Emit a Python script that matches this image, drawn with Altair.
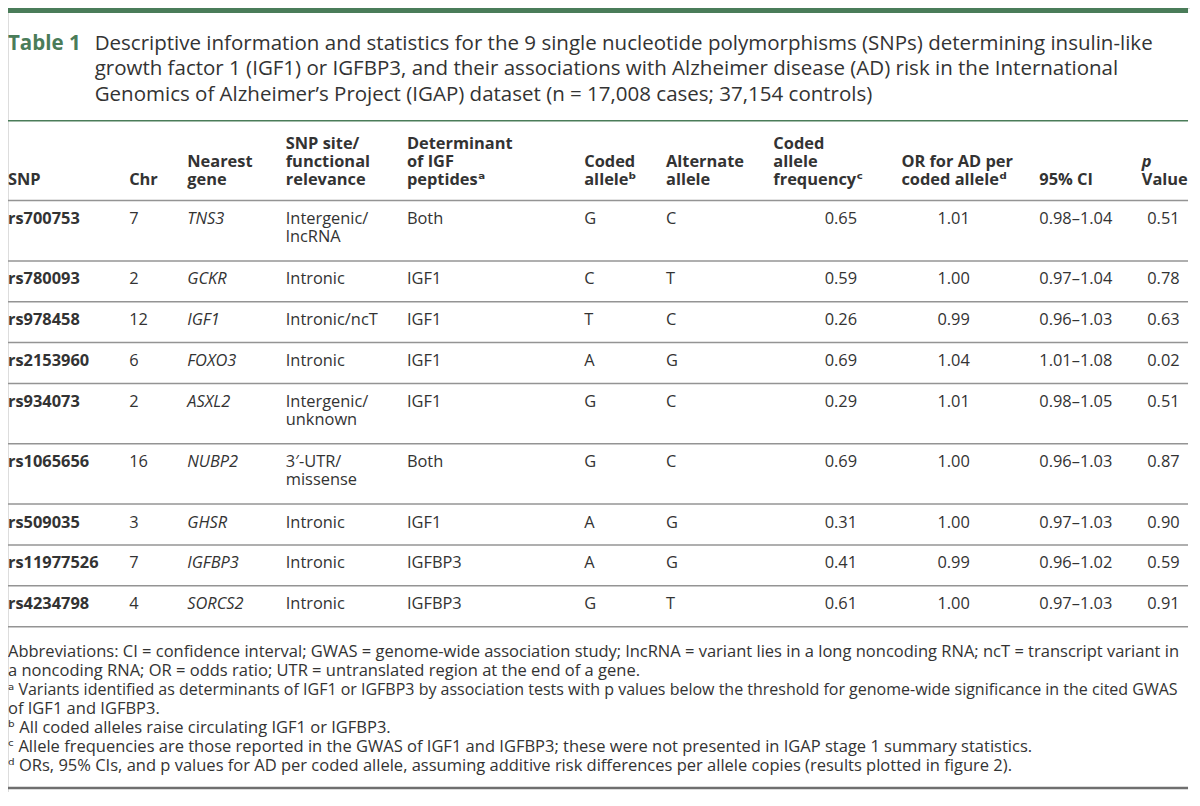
import altair as alt
import pandas as pd

# ---------------- data ----------------
title_label = "Table 1"
title_lines = [
    "Descriptive information and statistics for the 9 single nucleotide polymorphisms (SNPs) determining insulin-like",
    "growth factor 1 (IGF1) or IGFBP3, and their associations with Alzheimer disease (AD) risk in the International",
    "Genomics of Alzheimer\u2019s Project (IGAP) dataset (n = 17,008 cases; 37,154 controls)",
]
header_cells = [
    ["SNP"], ["Chr"], ["Nearest", "gene"], ["SNP site/", "functional", "relevance"],
    ["Determinant", "of IGF", "peptides\u1d43"], ["Coded", "allele\u1d47"], ["Alternate", "allele"],
    ["Coded", "allele", "frequency\u1d9c"], ["OR for AD per", "coded allele\u1d48"], ["95% CI"], ["p", "Value"],
]
snps = ["rs700753", "rs780093", "rs978458", "rs2153960", "rs934073",
        "rs1065656", "rs509035", "rs11977526", "rs4234798"]
chromosomes = [7, 2, 12, 6, 2, 16, 3, 7, 4]
genes = ["TNS3", "GCKR", "IGF1", "FOXO3", "ASXL2", "NUBP2", "GHSR", "IGFBP3", "SORCS2"]
sites = [["Intergenic/", "lncRNA"], ["Intronic"], ["Intronic/ncT"], ["Intronic"],
         ["Intergenic/", "unknown"], ["3\u2032-UTR/", "missense"], ["Intronic"], ["Intronic"], ["Intronic"]]
determinants = ["Both", "IGF1", "IGF1", "IGF1", "IGF1", "Both", "IGF1", "IGFBP3", "IGFBP3"]
coded_alleles = ["G", "C", "T", "A", "G", "G", "A", "A", "G"]
alternate_alleles = ["C", "T", "C", "G", "C", "C", "G", "G", "T"]
allele_freq = [0.65, 0.59, 0.26, 0.69, 0.29, 0.69, 0.31, 0.41, 0.61]
odds_ratios = [1.01, 1.00, 0.99, 1.04, 1.01, 1.00, 1.00, 0.99, 1.00]
ci_low = [0.98, 0.97, 0.96, 1.01, 0.98, 0.96, 0.97, 0.96, 0.97]
ci_high = [1.04, 1.04, 1.03, 1.08, 1.05, 1.03, 1.03, 1.02, 1.03]
p_values = [0.51, 0.78, 0.63, 0.02, 0.51, 0.87, 0.90, 0.59, 0.91]
footnotes = [
    "Abbreviations: CI = confidence interval; GWAS = genome-wide association study; lncRNA = variant lies in a long noncoding RNA; ncT = transcript variant in",
    "a noncoding RNA; OR = odds ratio; UTR = untranslated region at the end of a gene.",
    "\u1d43 Variants identified as determinants of IGF1 or IGFBP3 by association tests with p values below the threshold for genome-wide significance in the cited GWAS",
    "of IGF1 and IGFBP3.",
    "\u1d47 All coded alleles raise circulating IGF1 or IGFBP3.",
    "\u1d9c Allele frequencies are those reported in the GWAS of IGF1 and IGFBP3; these were not presented in IGAP stage 1 summary statistics.",
    "\u1d48 ORs, 95% CIs, and p values for AD per coded allele, assuming additive risk differences per allele copies (results plotted in figure 2).",
]

# ---------------- layout / style ----------------
W, H = 1182, 784
REF_W, REF_H = 1200, 806
FONT = "Open Sans, DejaVu Sans, sans-serif"
GREEN = "#4a7c59"
INK = "#333333"
GREY = "#949494"
TITLE_SIZE, BODY_SIZE, FOOT_SIZE, FOOT_TIGHT = 20.5, 16.4, 16.5, 16.0
col_x = [0, 123, 182, 282, 405, 585, 668, 777, 907, 1047, 1151]
freq_right, or_center, p_center = 862, 960, 1173
title_y0, title_step, title_text_x = 37, 26, 88
header_y = [140, 158.5, 177]
header_bottom = 198
row_h1, row_h2, first_off, line_step = 42, 62, 19, 18.5
foot_y0, foot_step = 662, 19.5
table_right = 1198

xs = alt.Scale(domain=[0, REF_W], nice=False, zero=False)
ys = alt.Scale(domain=[REF_H, 0], nice=False, zero=False)


def text_layer(df, size=BODY_SIZE, weight="normal", style="normal", align="left", color=INK):
    return alt.Chart(df).mark_text(
        font=FONT, fontSize=size, fontWeight=weight, fontStyle=style,
        align=align, baseline="middle", color=color,
    ).encode(
        x=alt.X("x:Q", scale=xs, axis=None),
        y=alt.Y("y:Q", scale=ys, axis=None),
        text="text:N",
    )


def rule_layer(df, width, color):
    return alt.Chart(df).mark_rule(color=color, strokeWidth=width).encode(
        x=alt.X("x:Q", scale=xs, axis=None),
        x2="x2:Q",
        y=alt.Y("y:Q", scale=ys, axis=None),
    )


# title
title_label_df = pd.DataFrame({"x": [0], "y": [title_y0], "text": [title_label]})
title_df = pd.DataFrame({
    "x": [title_text_x] * len(title_lines),
    "y": [title_y0 + i * title_step for i in range(len(title_lines))],
    "text": title_lines,
})

# header (bottom aligned)
hdr_rows, hdr_italic = [], []
for ci, cell in enumerate(header_cells):
    n = len(cell)
    for li, t in enumerate(cell):
        row = {"x": col_x[ci], "y": header_y[3 - n + li], "text": t}
        if t == "p":
            hdr_italic.append(row)
        else:
            hdr_rows.append(row)
hdr_df = pd.DataFrame(hdr_rows)
hdr_it_df = pd.DataFrame(hdr_italic)

# body
row_tops, y = [], header_bottom
for s in sites:
    row_tops.append(y)
    y += row_h2 if len(s) > 1 else row_h1
table_bottom = y

bold_rows, ital_rows, left_rows, right_rows, center_rows = [], [], [], [], []
for i in range(len(snps)):
    y1 = row_tops[i] + first_off
    bold_rows.append({"x": col_x[0], "y": y1, "text": snps[i]})
    left_rows.append({"x": col_x[1], "y": y1, "text": str(chromosomes[i])})
    ital_rows.append({"x": col_x[2], "y": y1, "text": genes[i]})
    for li, t in enumerate(sites[i]):
        left_rows.append({"x": col_x[3], "y": y1 + li * line_step, "text": t})
    left_rows.append({"x": col_x[4], "y": y1, "text": determinants[i]})
    left_rows.append({"x": col_x[5], "y": y1, "text": coded_alleles[i]})
    left_rows.append({"x": col_x[6], "y": y1, "text": alternate_alleles[i]})
    right_rows.append({"x": freq_right, "y": y1, "text": f"{allele_freq[i]:.2f}"})
    center_rows.append({"x": or_center, "y": y1, "text": f"{odds_ratios[i]:.2f}"})
    left_rows.append({"x": col_x[9], "y": y1, "text": f"{ci_low[i]:.2f}\u2013{ci_high[i]:.2f}"})
    center_rows.append({"x": p_center, "y": y1, "text": f"{p_values[i]:.2f}"})

foot_all = pd.DataFrame({
    "x": [0] * len(footnotes),
    "y": [foot_y0 + i * foot_step for i in range(len(footnotes))],
    "text": footnotes,
})
foot_tight = foot_all.iloc[[2]]
foot_df = foot_all.drop(index=2)

# rules
sep_y = [header_bottom] + row_tops[1:] + [table_bottom]
grey_rules = pd.DataFrame({"x": 0, "x2": table_right, "y": sep_y})
top_rule = pd.DataFrame({"x": [0], "x2": [table_right], "y": [2.5]})
title_rule = pd.DataFrame({"x": [0], "x2": [table_right], "y": [116]})
bottom_rule = pd.DataFrame({"x": [0], "x2": [table_right], "y": [802]})

chart = alt.layer(
    rule_layer(top_rule, 5, GREEN),
    rule_layer(title_rule, 1.5, GREEN),
    rule_layer(grey_rules, 1.5, GREY),
    rule_layer(bottom_rule, 2.5, "#6f6f6f"),
    text_layer(title_label_df, size=TITLE_SIZE, weight="bold", color=GREEN),
    text_layer(title_df, size=TITLE_SIZE),
    text_layer(hdr_df, weight="bold"),
    text_layer(hdr_it_df, weight="bold", style="italic"),
    text_layer(pd.DataFrame(bold_rows), weight="bold"),
    text_layer(pd.DataFrame(ital_rows), style="italic"),
    text_layer(pd.DataFrame(left_rows)),
    text_layer(pd.DataFrame(right_rows), align="right"),
    text_layer(pd.DataFrame(center_rows), align="center"),
    text_layer(foot_df, size=FOOT_SIZE),
    text_layer(foot_tight, size=FOOT_TIGHT),
).properties(
    width=W, height=H, padding=0,
    autosize=alt.AutoSizeParams(type="none"),
).configure_view(stroke=None).configure(background="white")

chart.save("out.html", embed_options={"renderer": "svg", "actions": False})
